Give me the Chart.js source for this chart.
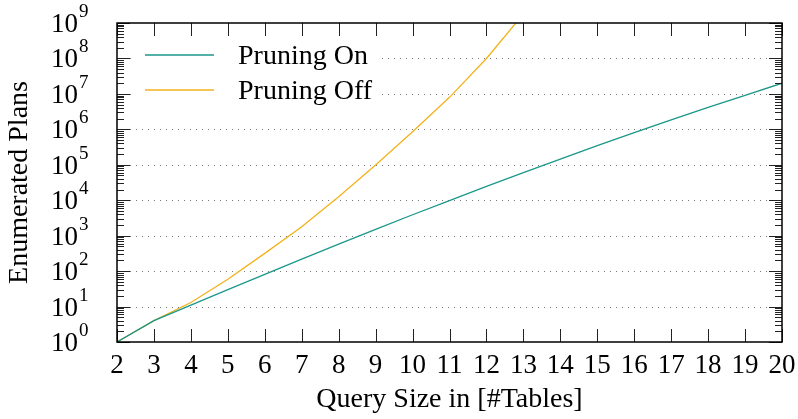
<!DOCTYPE html>
<html>
<head>
<meta charset="utf-8">
<script src="https://cdn.jsdelivr.net/npm/chart.js@4.4.1/dist/chart.umd.min.js"></script>
<style>
  html, body { margin: 0; padding: 0; background: #fff; }
  #cadre { width: 798px; height: 419px; }
</style>
</head>
<body>
<div id="cadre"><canvas id="graph"></canvas></div>
<script>
// Donnees (nombre de plans enumeres selon la taille de la requete)
const tailles = [2, 3, 4, 5, 6, 7, 8, 9, 10, 11, 12, 13, 14, 15, 16, 17, 18, 19, 20];
const plansAvecElagage = [1, 4, 11, 30, 81, 219, 575, 1510, 3890, 9770, 24500, 60300,
  144500, 347000, 813000, 1860000, 4170000, 9120000, 20000000];
const taillesSansElagage = [2, 3, 4, 5, 6, 7, 8, 9, 10, 11, 12, 13];
const plansSansElagage = [1, 4, 13, 59, 316, 1780, 12600, 98000, 850000, 8000000, 100000000, 1800000000];
const exposants = [0, 1, 2, 3, 4, 5, 6, 7, 8, 9];
const etiquettesX = [2, 3, 4, 5, 6, 7, 8, 9, 10, 11, 12, 13, 14, 15, 16, 17, 18, 19, 20];

const POLICE = "'Liberation Serif', 'DejaVu Serif', serif";
const TEAL = "#1a978a";
const ORANGE = "#f3b21c";

// ---------- Decor facon gnuplot : cadre, graduations internes, grille pointillee ----------

const decorAxes = {
  id: "decorAxes",
  beforeDatasetsDraw(chart) {
    const { ctx, chartArea: a, scales: { y } } = chart;
    ctx.save();
    // grille pointillee sur les decades
    ctx.strokeStyle = "#7a7a7a";
    ctx.lineWidth = 1;
    ctx.setLineDash([1, 5]);
    for (const e of exposants) {
      if (e === 0 || e === 9) continue;
      const py = Math.round(y.getPixelForValue(10 ** e)) + 0.5;
      ctx.beginPath();
      ctx.moveTo(a.left + 13, py);
      ctx.lineTo(a.right - 13, py);
      ctx.stroke();
    }
    ctx.setLineDash([]);

    // legende dans le coin haut gauche
    ctx.fillStyle = "#fff";
    ctx.fillRect(133, 40, 247, 70);
    ctx.font = `28px ${POLICE}`;
    ctx.textBaseline = "alphabetic";
    chart.data.datasets.forEach((ds, i) => {
      const ly = 55 + i * 35;
      ctx.strokeStyle = ds.borderColor;
      ctx.lineWidth = 1.3;
      ctx.beginPath();
      ctx.moveTo(145, ly);
      ctx.lineTo(214, ly);
      ctx.stroke();
      ctx.fillStyle = "#000";
      ctx.fillText(ds.label, 238, ly + 9);
    });
    ctx.restore();
  },
  afterDatasetsDraw(chart) {
    const { ctx, chartArea: a, scales: { x, y } } = chart;
    ctx.save();
    ctx.strokeStyle = "#222";
    ctx.lineWidth = 1;

    // graduations de l'axe x (haut et bas)
    for (const v of etiquettesX) {
      const px = Math.round(x.getPixelForValue(v)) + 0.5;
      ctx.beginPath();
      ctx.moveTo(px, a.bottom);
      ctx.lineTo(px, a.bottom - 13);
      ctx.moveTo(px, a.top);
      ctx.lineTo(px, a.top + 13);
      ctx.stroke();
    }

    // graduations de l'axe y (gauche et droite), majeures et mineures
    for (const e of exposants) {
      const py = Math.round(y.getPixelForValue(10 ** e)) + 0.5;
      ctx.beginPath();
      ctx.moveTo(a.left, py);
      ctx.lineTo(a.left + 13, py);
      ctx.moveTo(a.right, py);
      ctx.lineTo(a.right - 13, py);
      ctx.stroke();
      if (e === 9) continue;
      for (let k = 2; k <= 9; k++) {
        const pm = Math.round(y.getPixelForValue(k * 10 ** e)) + 0.5;
        ctx.beginPath();
        ctx.moveTo(a.left, pm);
        ctx.lineTo(a.left + 7, pm);
        ctx.moveTo(a.right, pm);
        ctx.lineTo(a.right - 7, pm);
        ctx.stroke();
      }
    }

    // cadre
    ctx.strokeStyle = "#000";
    ctx.lineWidth = 1.5;
    ctx.strokeRect(a.left, a.top, a.right - a.left, a.bottom - a.top);

    // etiquettes 10^n
    ctx.fillStyle = "#000";
    ctx.textBaseline = "alphabetic";
    for (const e of exposants) {
      const py = y.getPixelForValue(10 ** e);
      ctx.font = `27px ${POLICE}`;
      ctx.textAlign = "right";
      ctx.fillText("10", 78, py + 9);
      ctx.font = `19px ${POLICE}`;
      ctx.textAlign = "left";
      ctx.fillText(String(e), 79, py - 6);
    }
    ctx.restore();
  }
};

// ---------- Graphique ----------

function enPoints(xs, ys) {
  return ys.map((v, i) => ({ x: xs[i], y: v }));
}

new Chart(document.getElementById("graph"), {
  type: "line",
  data: {
    datasets: [
      { label: "Pruning On", data: enPoints(tailles, plansAvecElagage), borderColor: TEAL },
      { label: "Pruning Off", data: enPoints(taillesSansElagage, plansSansElagage), borderColor: ORANGE },
    ],
  },
  options: {
    responsive: true,
    maintainAspectRatio: false,
    animation: false,
    layout: { padding: { top: 23, right: 16, left: 0, bottom: 0 } },
    elements: {
      line: { borderWidth: 1.3, tension: 0 },
      point: { radius: 0 },
    },
    plugins: { legend: { display: false }, tooltip: { enabled: false } },
    scales: {
      x: {
        type: "linear",
        min: 2,
        max: 20,
        grid: { display: false },
        border: { display: false },
        afterFit: (s) => { s.height = 77; },
        afterBuildTicks: (s) => { s.ticks = etiquettesX.map(v => ({ value: v })); },
        ticks: { color: "#000", padding: 0, font: { family: POLICE, size: 27 }, maxRotation: 0, autoSkip: false },
        title: { display: true, text: "Query Size in [#Tables]", color: "#000", padding: { top: 0, bottom: 3 }, font: { family: POLICE, size: 28 } },
      },
      y: {
        type: "logarithmic",
        min: 1,
        max: 1e9,
        grid: { display: false },
        border: { display: false },
        afterFit: (s) => { s.width = 117; },
        ticks: { display: false },
        title: { display: true, text: "Enumerated Plans", color: "#000", padding: { top: 3, bottom: 0 }, font: { family: POLICE, size: 28 } },
      },
    },
  },
  plugins: [decorAxes],
});
</script>
</body>
</html>
